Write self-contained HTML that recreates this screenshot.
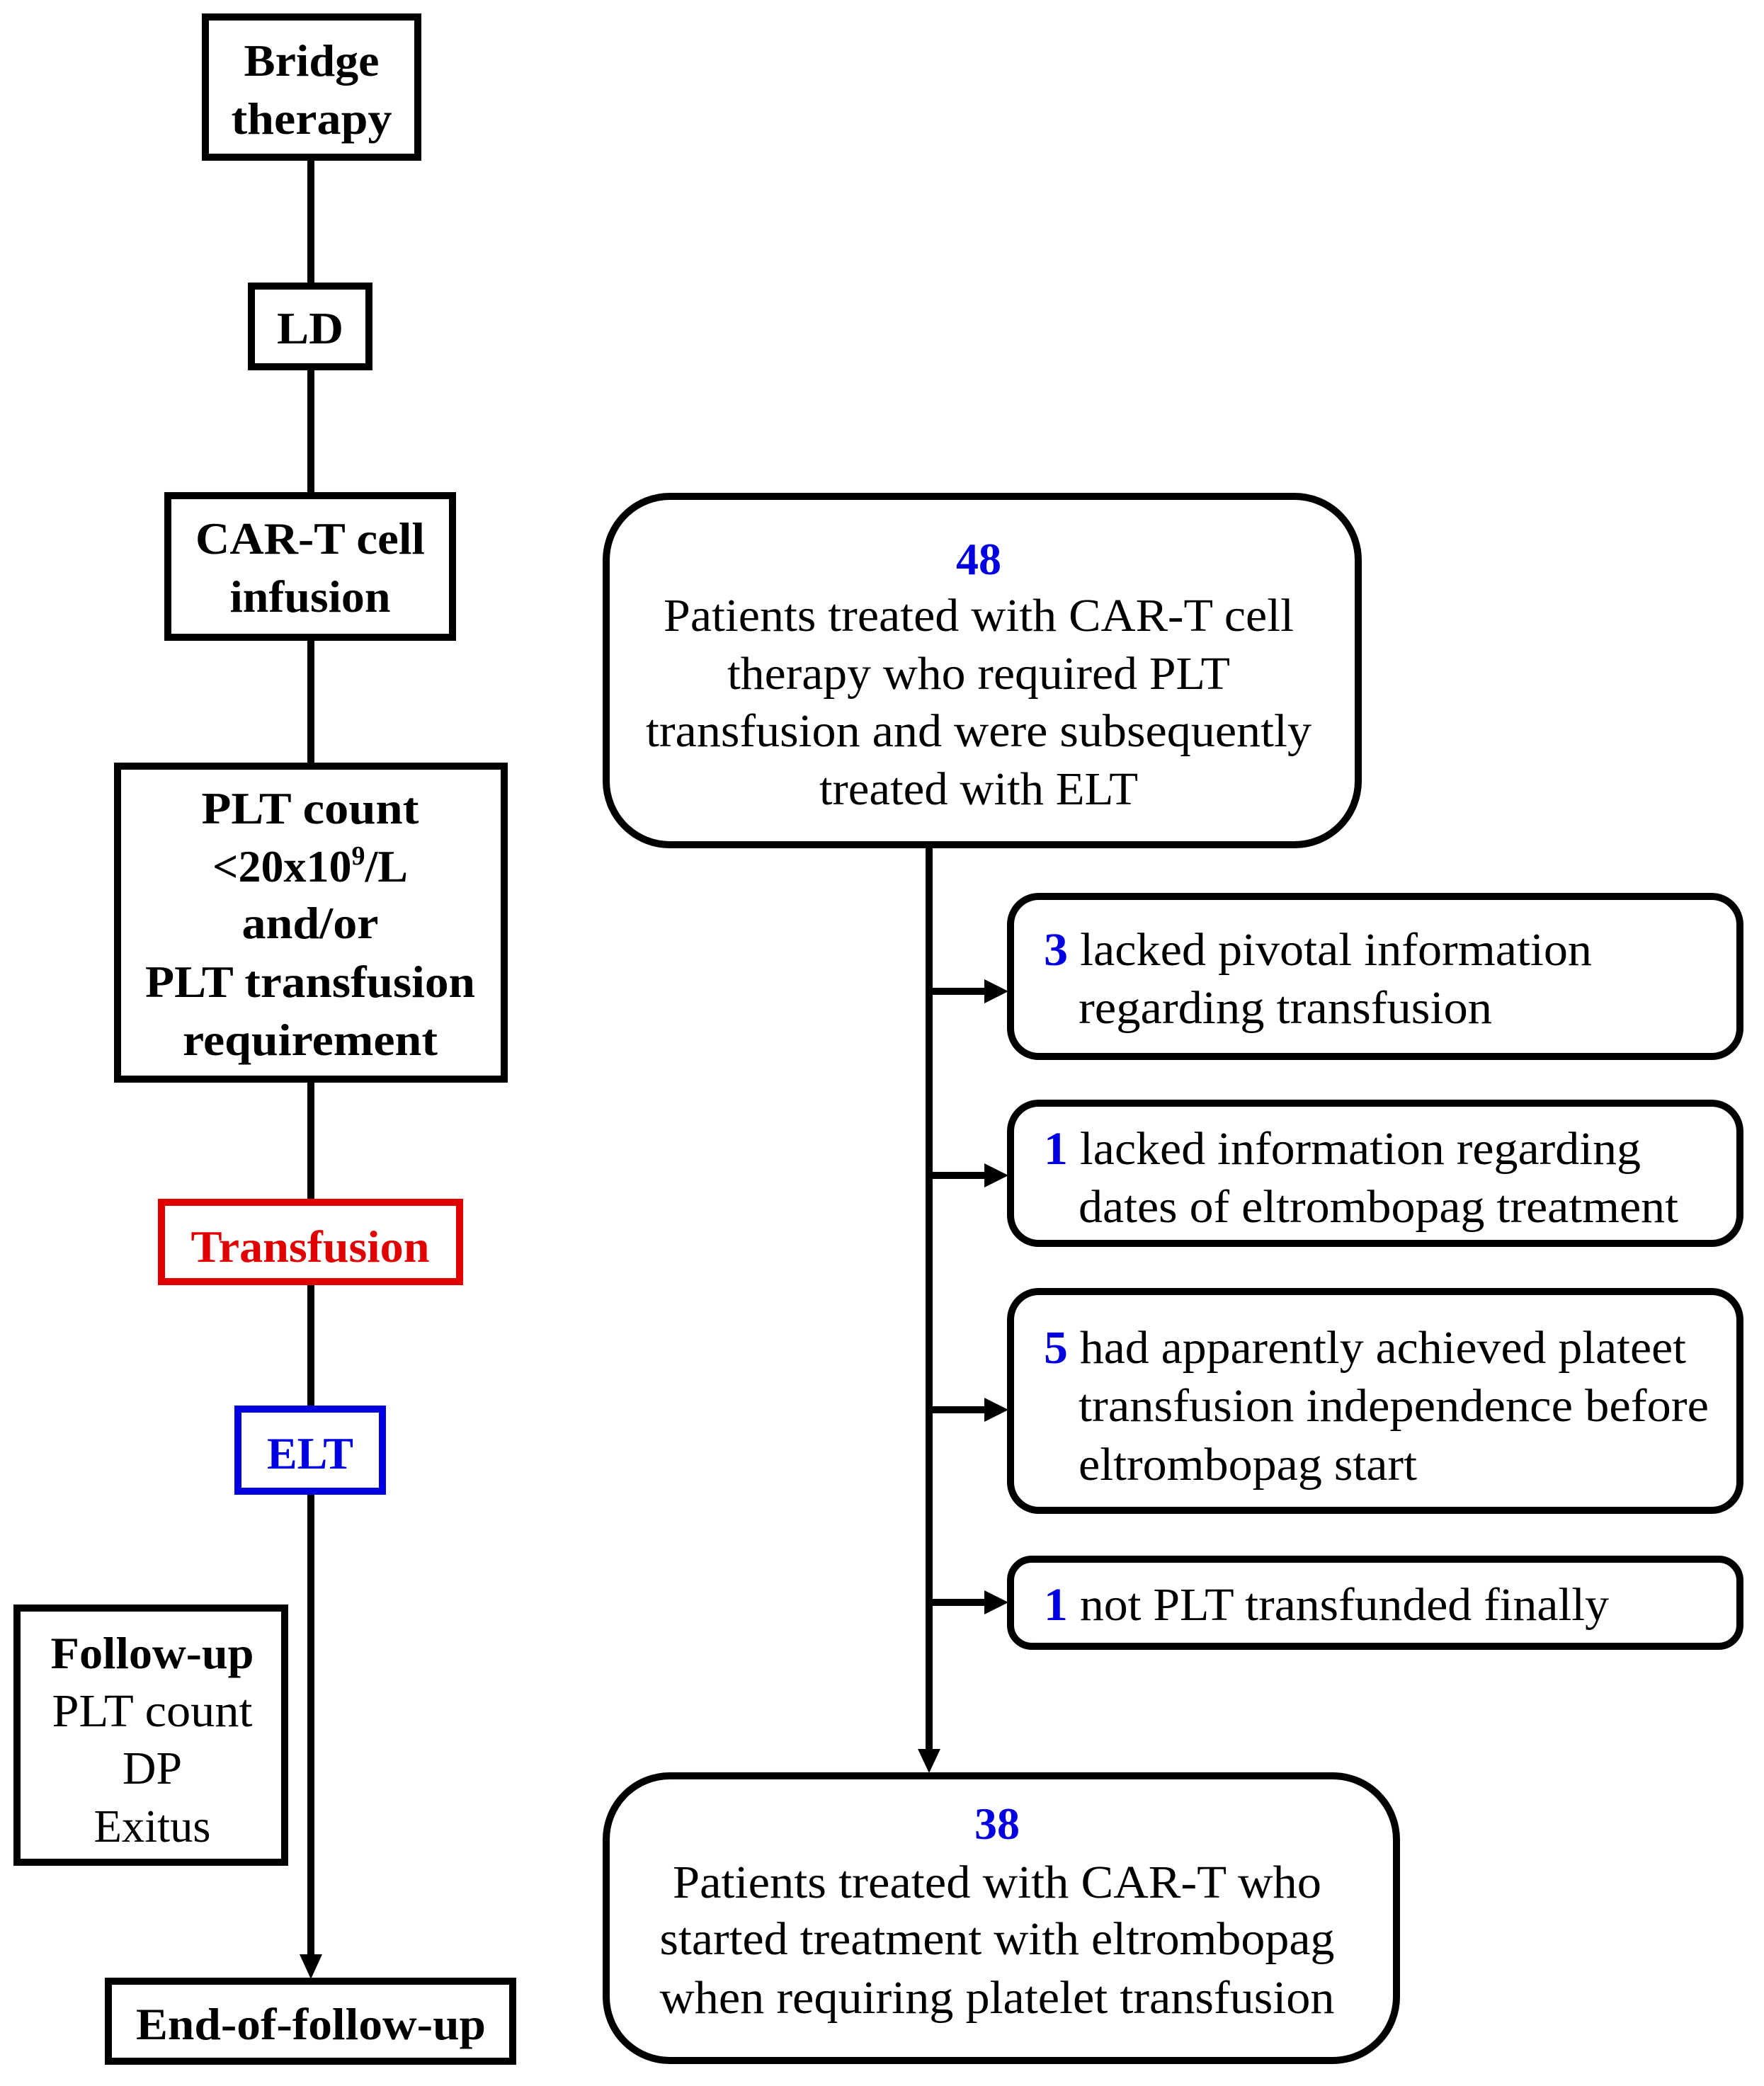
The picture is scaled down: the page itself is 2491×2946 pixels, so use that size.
<!DOCTYPE html>
<html><head><meta charset="utf-8"><style>html,body{margin:0;padding:0;background:#fff}svg{display:block}</style></head>
<body>
<svg width="2491" height="2946" viewBox="0 0 2491 2946" xmlns="http://www.w3.org/2000/svg" font-family="'Liberation Serif', serif">
<rect width="2491" height="2946" fill="#fff"/>
<g stroke="#000" stroke-width="10" fill="none">
<line x1="439" y1="225" x2="439" y2="2770"/>
<line x1="1312" y1="1195" x2="1312" y2="2480"/>
<line x1="1312" y1="1400" x2="1395" y2="1400"/>
<line x1="1312" y1="1660" x2="1395" y2="1660"/>
<line x1="1312" y1="1991" x2="1395" y2="1991"/>
<line x1="1312" y1="2263" x2="1395" y2="2263"/>
</g>
<g fill="#000">
<polygon points="1390,1383 1424,1400 1390,1417"/>
<polygon points="1390,1643 1424,1660 1390,1677"/>
<polygon points="1390,1974 1424,1991 1390,2008"/>
<polygon points="1390,2246 1424,2263 1390,2280"/>
<polygon points="1296,2470 1328,2470 1312,2504"/>
<polygon points="423,2760 455,2760 439,2795"/>
</g>
<g stroke="#000" stroke-width="10" fill="#fff">
<rect x="290" y="24" width="300" height="198"/>
<rect x="355" y="404" width="166" height="114"/>
<rect x="237" y="700" width="402" height="200"/>
<rect x="166" y="1082" width="546" height="442"/>
<rect x="24" y="2271" width="378" height="359"/>
<rect x="153" y="2798" width="571" height="113"/>
<rect x="856" y="701" width="1062" height="492" rx="90"/>
<rect x="1427" y="1266" width="1030" height="226" rx="40"/>
<rect x="1427" y="1558" width="1030" height="198" rx="40"/>
<rect x="1427" y="1824" width="1030" height="309" rx="40"/>
<rect x="1427" y="2202" width="1030" height="123" rx="30"/>
<rect x="856" y="2508" width="1116" height="402" rx="90"/>
</g>
<rect x="228" y="1698" width="421" height="112" stroke="#e00000" stroke-width="10" fill="#fff"/>
<rect x="336" y="1990" width="204" height="116" stroke="#0000e0" stroke-width="10" fill="#fff"/>
<g font-weight="bold" font-size="64" text-anchor="middle" fill="#000" lengthAdjust="spacingAndGlyphs">
<text x="440" y="107" textLength="191" lengthAdjust="spacingAndGlyphs">Bridge</text>
<text x="440" y="189" textLength="227" lengthAdjust="spacingAndGlyphs">therapy</text>
<text x="438" y="485" textLength="94" lengthAdjust="spacingAndGlyphs">LD</text>
<text x="438" y="782" textLength="324" lengthAdjust="spacingAndGlyphs">CAR-T cell</text>
<text x="438" y="864" textLength="227" lengthAdjust="spacingAndGlyphs">infusion</text>
<text x="438" y="1163" textLength="307" lengthAdjust="spacingAndGlyphs">PLT count</text>
<text x="438" y="1245">&lt;20x10<tspan font-size="38" dy="-24">9</tspan><tspan dy="24">/L</tspan></text>
<text x="438" y="1325" textLength="193" lengthAdjust="spacingAndGlyphs">and/or</text>
<text x="438" y="1408" textLength="466" lengthAdjust="spacingAndGlyphs">PLT transfusion</text>
<text x="438" y="1490" textLength="360" lengthAdjust="spacingAndGlyphs">requirement</text>
<text x="438" y="1782" fill="#e00000" textLength="337" lengthAdjust="spacingAndGlyphs">Transfusion</text>
<text x="438" y="2074" fill="#0000e0" textLength="122" lengthAdjust="spacingAndGlyphs">ELT</text>
<text x="215" y="2356" textLength="287" lengthAdjust="spacingAndGlyphs">Follow-up</text>
<text x="439" y="2880" textLength="494" lengthAdjust="spacingAndGlyphs">End-of-follow-up</text>
<text x="1382" y="811" fill="#0000e0">48</text>
<text x="1408" y="2597" fill="#0000e0">38</text>
</g>
<g font-size="66" text-anchor="middle" fill="#000">
<text x="215" y="2438" textLength="283" lengthAdjust="spacingAndGlyphs">PLT count</text>
<text x="215" y="2519" textLength="84" lengthAdjust="spacingAndGlyphs">DP</text>
<text x="215" y="2601" textLength="165" lengthAdjust="spacingAndGlyphs">Exitus</text>
<text x="1382" y="891" textLength="890" lengthAdjust="spacingAndGlyphs">Patients treated with CAR-T cell</text>
<text x="1382" y="973" textLength="710" lengthAdjust="spacingAndGlyphs">therapy who required PLT</text>
<text x="1382" y="1054" textLength="940" lengthAdjust="spacingAndGlyphs">transfusion and were subsequently</text>
<text x="1382" y="1136" textLength="450" lengthAdjust="spacingAndGlyphs">treated with ELT</text>
<text x="1408" y="2680" textLength="916" lengthAdjust="spacingAndGlyphs">Patients treated with CAR-T who</text>
<text x="1408" y="2760" textLength="953" lengthAdjust="spacingAndGlyphs">started treatment with eltrombopag</text>
<text x="1408" y="2843" textLength="953" lengthAdjust="spacingAndGlyphs">when requiring platelet transfusion</text>
</g>
<g font-size="66" fill="#000">
<text x="1474" y="1363" textLength="774" lengthAdjust="spacingAndGlyphs"><tspan fill="#0000e0" font-weight="bold">3</tspan> lacked pivotal information</text>
<text x="1523" y="1445" textLength="584" lengthAdjust="spacingAndGlyphs">regarding transfusion</text>
<text x="1474" y="1644" textLength="843" lengthAdjust="spacingAndGlyphs"><tspan fill="#0000e0" font-weight="bold">1</tspan> lacked information regarding</text>
<text x="1523" y="1726" textLength="847" lengthAdjust="spacingAndGlyphs">dates of eltrombopag treatment</text>
<text x="1474" y="1925" textLength="907" lengthAdjust="spacingAndGlyphs"><tspan fill="#0000e0" font-weight="bold">5</tspan> had apparently achieved plateet</text>
<text x="1523" y="2007" textLength="890" lengthAdjust="spacingAndGlyphs">transfusion independence before</text>
<text x="1523" y="2090" textLength="478" lengthAdjust="spacingAndGlyphs">eltrombopag start</text>
<text x="1474" y="2288" textLength="798" lengthAdjust="spacingAndGlyphs"><tspan fill="#0000e0" font-weight="bold">1</tspan> not PLT transfunded finally</text>
</g>
</svg>
</body></html>
